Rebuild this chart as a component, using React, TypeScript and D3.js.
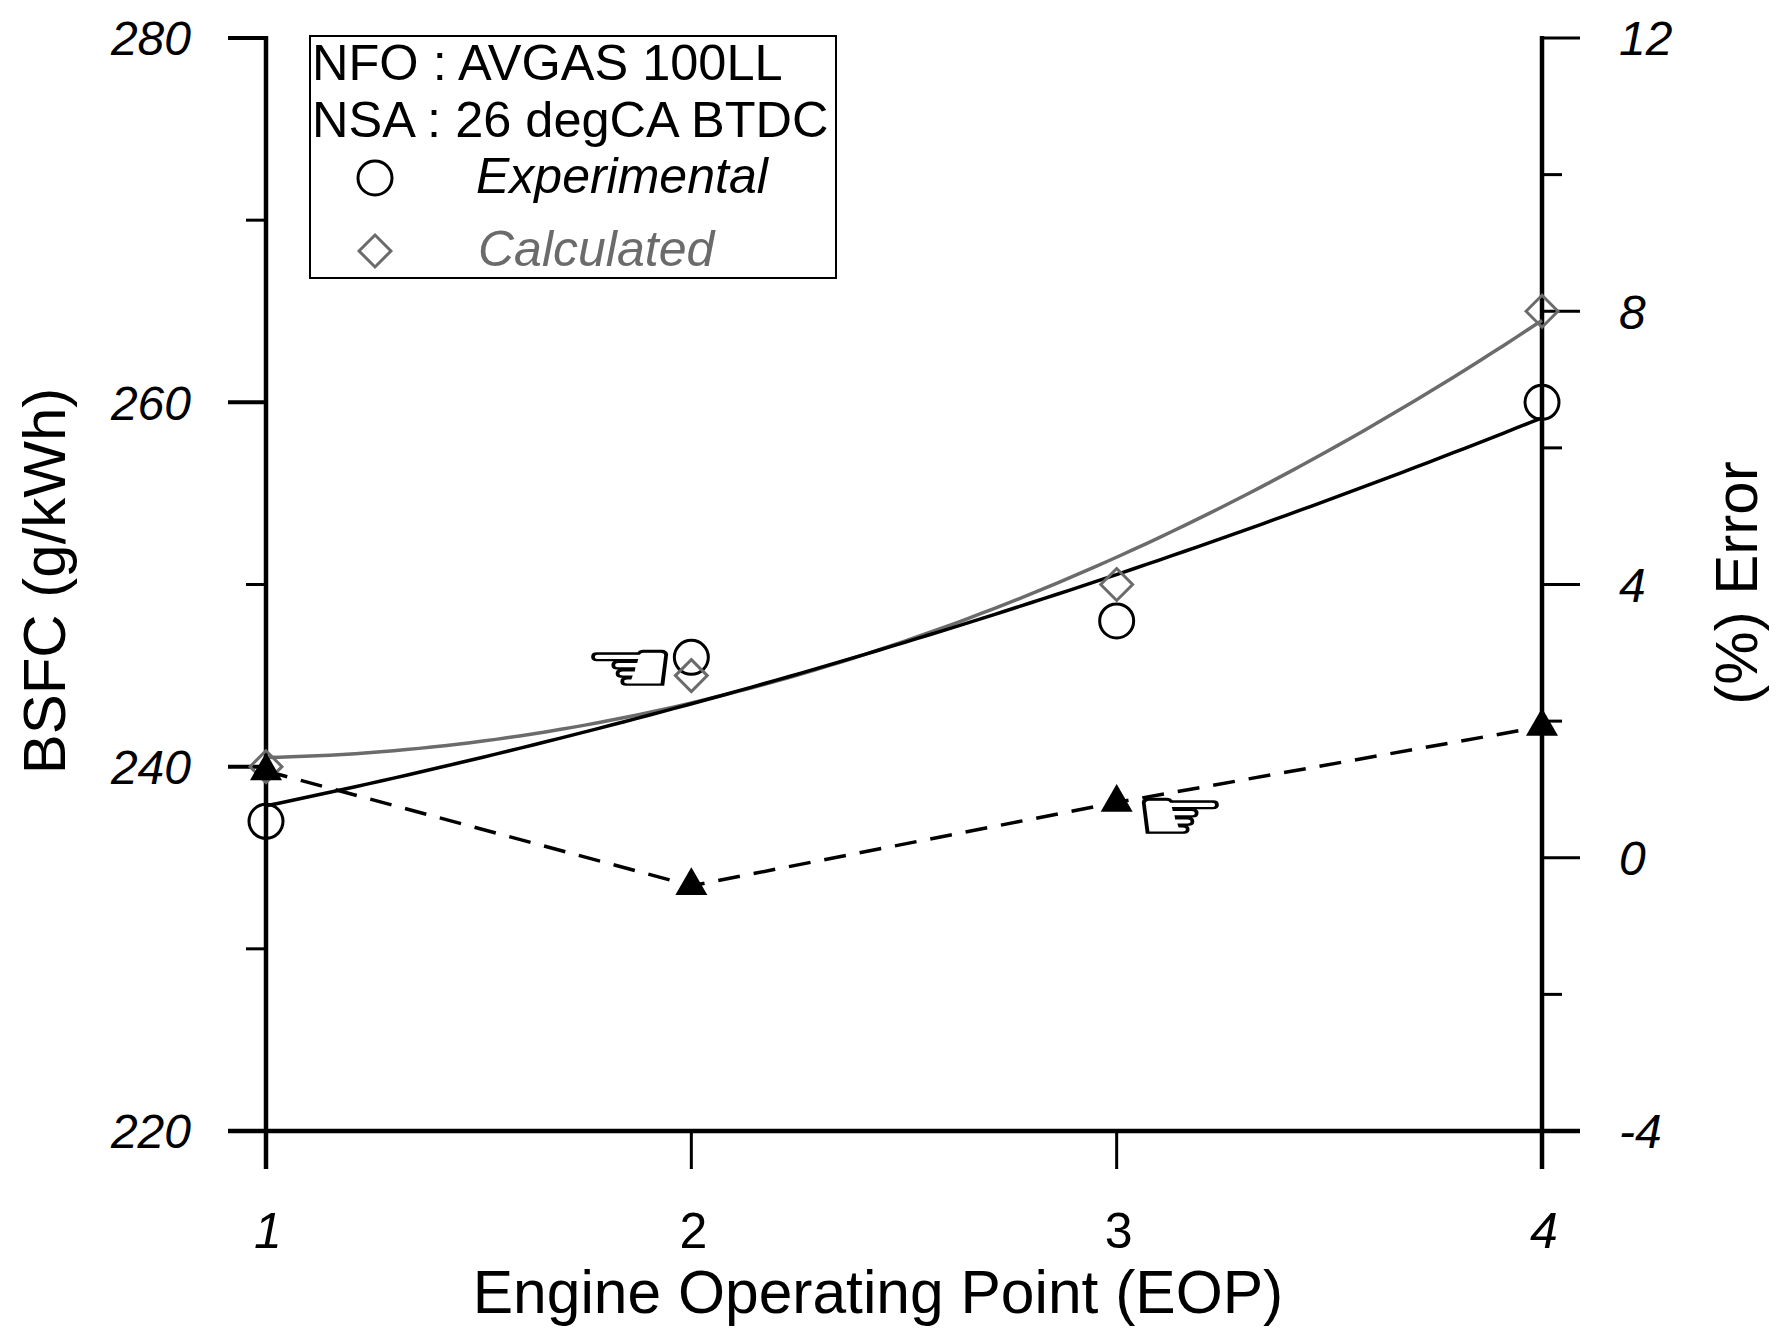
import React, { useEffect, useRef } from "react";
import * as d3 from "d3";

// Engine operating points
const eop = [1, 2, 3, 4];
// BSFC (g/kWh)
const experimental = [237, 246, 248, 260];
const calculated = [240, 245, 250, 265];
// % error between calculated and experimental
const errorPct = [1.27, -0.41, 0.81, 1.92];

const leftMajor = [220, 240, 260, 280];
const leftMinor = [230, 250, 270];
const rightMajor = [-4, 0, 4, 8, 12];
const rightMinor = [-2, 2, 6, 10];
const legendNotes = ["NFO : AVGAS 100LL", "NSA : 26 degCA BTDC"];

// pointer annotations: [eop, value] on left / right axis
const handLeft = [1.855, 245.4];
const handRight = [3.15, 0.6];

// quadratic least-squares fit, used for the trend curves
function quadFit(xs: number[], ys: number[]) {
  const n = xs.length;
  const s = [0, 0, 0, 0, 0];
  const t = [0, 0, 0];
  for (let i = 0; i < n; i++) {
    const x = xs[i];
    for (let k = 0; k <= 4; k++) s[k] += Math.pow(x, k);
    for (let k = 0; k <= 2; k++) t[k] += ys[i] * Math.pow(x, k);
  }
  const A = [
    [s[0], s[1], s[2], t[0]],
    [s[1], s[2], s[3], t[1]],
    [s[2], s[3], s[4], t[2]],
  ];
  for (let c = 0; c < 3; c++) {
    for (let r = c + 1; r < 3; r++) {
      const f = A[r][c] / A[c][c];
      for (let k = c; k < 4; k++) A[r][k] -= f * A[c][k];
    }
  }
  const p = [0, 0, 0];
  for (let r = 2; r >= 0; r--) {
    let v = A[r][3];
    for (let k = r + 1; k < 3; k++) v -= A[r][k] * p[k];
    p[r] = v / A[r][r];
  }
  return (x: number) => p[0] + p[1] * x + p[2] * x * x;
}

const W = 1784,
  H = 1342;
const GREY = "#6b6b6b";
const FONT = "'Liberation Sans', Arial, sans-serif";

const App: React.FC = () => {
  const ref = useRef<SVGSVGElement | null>(null);

  useEffect(() => {
    const svg = d3.select(ref.current);
    svg.selectAll("*").remove();

    const x = d3.scaleLinear().domain([1, 4]).range([266, 1542]);
    const yL = d3.scaleLinear().domain([220, 280]).range([1131, 38]);
    const yR = d3.scaleLinear().domain([-4, 12]).range([1131, 38]);
    const x0 = x(1),
      x1 = x(4),
      yBottom = yL(220),
      yTop = yL(280);

    const g = svg.append("g").attr("font-family", FONT);

    // axis lines
    [x0, x1].forEach((xx) =>
      g.append("line")
        .attr("x1", xx).attr("x2", xx)
        .attr("y1", yTop - 2).attr("y2", yBottom + 38)
        .attr("stroke", "#000").attr("stroke-width", 4.5)
    );
    g.append("line")
      .attr("x1", x0 - 38).attr("x2", x1 + 38)
      .attr("y1", yBottom).attr("y2", yBottom)
      .attr("stroke", "#000").attr("stroke-width", 4.5);

    // left ticks
    g.selectAll(".lmaj")
      .data(leftMajor)
      .enter()
      .append("line")
      .attr("x1", x0 - 38).attr("x2", x0)
      .attr("y1", (d) => yL(d)).attr("y2", (d) => yL(d))
      .attr("stroke", "#000").attr("stroke-width", 4);
    g.selectAll(".lmin")
      .data(leftMinor)
      .enter()
      .append("line")
      .attr("x1", x0 - 20).attr("x2", x0)
      .attr("y1", (d) => yL(d)).attr("y2", (d) => yL(d))
      .attr("stroke", "#000").attr("stroke-width", 3);
    g.selectAll(".llab")
      .data(leftMajor)
      .enter()
      .append("text")
      .attr("x", 191)
      .attr("y", (d) => yL(d))
      .attr("dy", "0.36em")
      .attr("text-anchor", "end")
      .attr("font-size", 48)
      .attr("font-style", "italic")
      .text((d) => String(d));

    // right ticks
    g.selectAll(".rmaj")
      .data(rightMajor)
      .enter()
      .append("line")
      .attr("x1", x1).attr("x2", x1 + 38)
      .attr("y1", (d) => yR(d)).attr("y2", (d) => yR(d))
      .attr("stroke", "#000").attr("stroke-width", 3);
    g.selectAll(".rmin")
      .data(rightMinor)
      .enter()
      .append("line")
      .attr("x1", x1).attr("x2", x1 + 20)
      .attr("y1", (d) => yR(d)).attr("y2", (d) => yR(d))
      .attr("stroke", "#000").attr("stroke-width", 3);
    g.selectAll(".rlab")
      .data(rightMajor)
      .enter()
      .append("text")
      .attr("x", 1619)
      .attr("y", (d) => yR(d))
      .attr("dy", "0.36em")
      .attr("font-size", 48)
      .attr("font-style", "italic")
      .text((d) => String(d));

    // x ticks
    g.selectAll(".xt")
      .data(eop.slice(1, -1))
      .enter()
      .append("line")
      .attr("x1", (d) => x(d)).attr("x2", (d) => x(d))
      .attr("y1", yBottom).attr("y2", yBottom + 38)
      .attr("stroke", "#000").attr("stroke-width", 3);
    g.selectAll(".xlab")
      .data(eop)
      .enter()
      .append("text")
      .attr("x", (d) => x(d) + 2)
      .attr("y", 1248)
      .attr("text-anchor", "middle")
      .attr("font-size", 50)
      .attr("font-style", (d, i) => (i === 0 || i === eop.length - 1 ? "italic" : "normal"))
      .text((d) => String(d));

    // axis titles
    g.append("text")
      .attr("x", 878)
      .attr("y", 1313)
      .attr("text-anchor", "middle")
      .attr("font-size", 60.5)
      .text("Engine Operating Point (EOP)");
    g.append("text")
      .attr("transform", "translate(65,581) rotate(-90)")
      .attr("text-anchor", "middle")
      .attr("font-size", 60)
      .text("BSFC (g/kWh)");
    g.append("text")
      .attr("transform", "translate(1757,583) rotate(-90)")
      .attr("text-anchor", "middle")
      .attr("font-size", 60)
      .text("(%) Error");

    // fitted curves
    const samples = d3.range(0, 101).map((i) => 1 + (3 * i) / 100);
    const fitExp = quadFit(eop, experimental);
    const fitCalc = quadFit(eop, calculated);
    const curve = (f: (v: number) => number) =>
      d3
        .line<number>()
        .x((d) => x(d))
        .y((d) => yL(f(d)))(samples);
    g.append("path")
      .attr("d", curve(fitCalc))
      .attr("fill", "none")
      .attr("stroke", GREY)
      .attr("stroke-width", 3.5);
    g.append("path")
      .attr("d", curve(fitExp))
      .attr("fill", "none")
      .attr("stroke", "#000")
      .attr("stroke-width", 3.5);

    // error line
    const errLine = d3
      .line<number>()
      .x((d, i) => x(eop[i]))
      .y((d) => yR(d));
    g.append("path")
      .attr("d", errLine(errorPct))
      .attr("fill", "none")
      .attr("stroke", "#000")
      .attr("stroke-width", 3.5)
      .attr("stroke-dasharray", "22 14");

    // markers
    const diamond = d3.symbol(d3.symbolDiamond2, 2 * 18 * 18)();
    const tri = d3.symbol(d3.symbolTriangle, (32 * 32 * Math.sqrt(3)) / 4)();
    g.selectAll(".exp")
      .data(experimental)
      .enter()
      .append("circle")
      .attr("cx", (d, i) => x(eop[i]))
      .attr("cy", (d) => yL(d))
      .attr("r", 17)
      .attr("fill", "none")
      .attr("stroke", "#000")
      .attr("stroke-width", 3);
    g.selectAll(".calc")
      .data(calculated)
      .enter()
      .append("path")
      .attr("d", diamond)
      .attr("transform", (d, i) => `translate(${x(eop[i])},${yL(d)})`)
      .attr("fill", "none")
      .attr("stroke", GREY)
      .attr("stroke-width", 3);
    g.selectAll(".err")
      .data(errorPct)
      .enter()
      .append("path")
      .attr("d", tri)
      .attr("transform", (d, i) => `translate(${x(eop[i])},${yR(d)})`)
      .attr("fill", "#000");

    // pointing hands (flattened to the reference's proportions)
    const hands: [number, number, string][] = [
      [x(handLeft[0]), yL(handLeft[1]), "\u261C"],
      [x(handRight[0]), yR(handRight[1]), "\u261E"],
    ];
    g.selectAll(".hand")
      .data(hands)
      .enter()
      .append("text")
      .attr("transform", (d) => `translate(${d[0]},${d[1]}) scale(1,0.72)`)
      .attr("dy", "0.33em")
      .attr("text-anchor", "middle")
      .attr("font-family", "'DejaVu Sans'")
      .attr("font-size", 104)
      .attr("stroke", "#000")
      .attr("stroke-width", 1.8)
      .text((d) => d[2]);

    // legend
    const lg = g.append("g");
    lg.append("rect")
      .attr("x", 310)
      .attr("y", 36)
      .attr("width", 526)
      .attr("height", 242)
      .attr("fill", "#fff")
      .attr("stroke", "#000")
      .attr("stroke-width", 2);
    lg.selectAll(".note")
      .data(legendNotes)
      .enter()
      .append("text")
      .attr("x", 312)
      .attr("y", (d, i) => 80 + i * 57)
      .attr("font-size", 50.5)
      .text((d) => d);
    lg.append("circle")
      .attr("cx", 375)
      .attr("cy", 178)
      .attr("r", 17)
      .attr("fill", "none")
      .attr("stroke", "#000")
      .attr("stroke-width", 3);
    lg.append("text")
      .attr("x", 476)
      .attr("y", 193)
      .attr("font-size", 50)
      .attr("font-style", "italic")
      .text("Experimental");
    lg.append("path")
      .attr("d", diamond)
      .attr("transform", "translate(375,251)")
      .attr("fill", "none")
      .attr("stroke", GREY)
      .attr("stroke-width", 3);
    lg.append("text")
      .attr("x", 478)
      .attr("y", 266)
      .attr("font-size", 50)
      .attr("font-style", "italic")
      .attr("fill", GREY)
      .text("Calculated");
  }, []);

  return (
    <svg
      ref={ref}
      width={W}
      height={H}
      style={{ position: "absolute", left: 0, top: 0, background: "#fff" }}
    ></svg>
  );
};

export default App;
